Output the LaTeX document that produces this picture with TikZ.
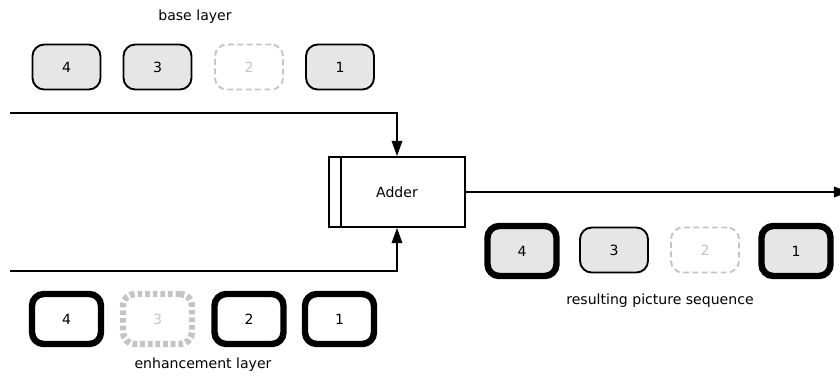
\documentclass[tikz,border=0pt]{standalone}
\usepackage{fontspec}
\setmainfont{DejaVu Sans}
\usetikzlibrary{arrows.meta}
\definecolor{boxgray}{HTML}{E6E6E6}
\definecolor{lostgray}{HTML}{C4C4C4}

\begin{document}
\begin{tikzpicture}[x=0.03cm, y=-0.03cm, font=\fontsize{12}{14}\selectfont,
  picbox/.style={draw, line width=1.6pt, rounded corners=10pt, fill=boxgray,
    minimum width=2.04cm, minimum height=1.35cm, inner sep=0pt},
  thickbox/.style={picbox, line width=5.5pt, minimum width=2.07cm, minimum height=1.5cm},
  lostbox/.style={picbox, fill=none, draw=lostgray, text=lostgray, dash pattern=on 5pt off 3pt},
  lostthick/.style={thickbox, fill=none, draw=lostgray, text=lostgray, dash pattern=on 4pt off 2.5pt},
  flow/.style={line width=1.6pt, -{Triangle[length=13pt, width=9pt]}}]
\useasboundingbox (0,0) rectangle (840,379);

% base layer
\node (baselabel) at (195, 17) {base layer};
\node[picbox] (b4) at (66.5, 67) {4};
\node[picbox] (b3) at (157.5, 67) {3};
\node[lostbox] (b2) at (249, 67) {2};
\node[picbox] (b1) at (340, 67) {1};

% adder
\node[draw, line width=1.6pt, minimum width=4.08cm, minimum height=2.1cm, inner sep=0pt] (adder) at (397, 192) {Adder};
\draw[line width=1.6pt] ([xshift=0.39cm]adder.north west) -- ([xshift=0.39cm]adder.south west);

\coordinate (basein) at (10, 113);
\coordinate (enhin) at (10, 271);
\coordinate (out) at (849, 192);
\draw[flow] (basein) -| (adder.north);
\draw[flow] (enhin) -| (adder.south);
\draw[flow] (adder.east) -- (out);

% enhancement layer
\node[thickbox, fill=white] (e4) at (66.5, 319) {4};
\node[lostthick] (e3) at (157.5, 319) {3};
\node[thickbox, fill=white] (e2) at (249, 319) {2};
\node[thickbox, fill=white] (e1) at (339.5, 319) {1};
\node (enhlabel) at (203, 365) {enhancement layer};

% result
\node[thickbox] (r4) at (522, 251) {4};
\node[picbox] (r3) at (614, 250) {3};
\node[lostbox] (r2) at (705, 250) {2};
\node[thickbox] (r1) at (796, 251) {1};
\node (reslabel) at (660, 301) {resulting picture sequence};
\end{tikzpicture}
\end{document}
